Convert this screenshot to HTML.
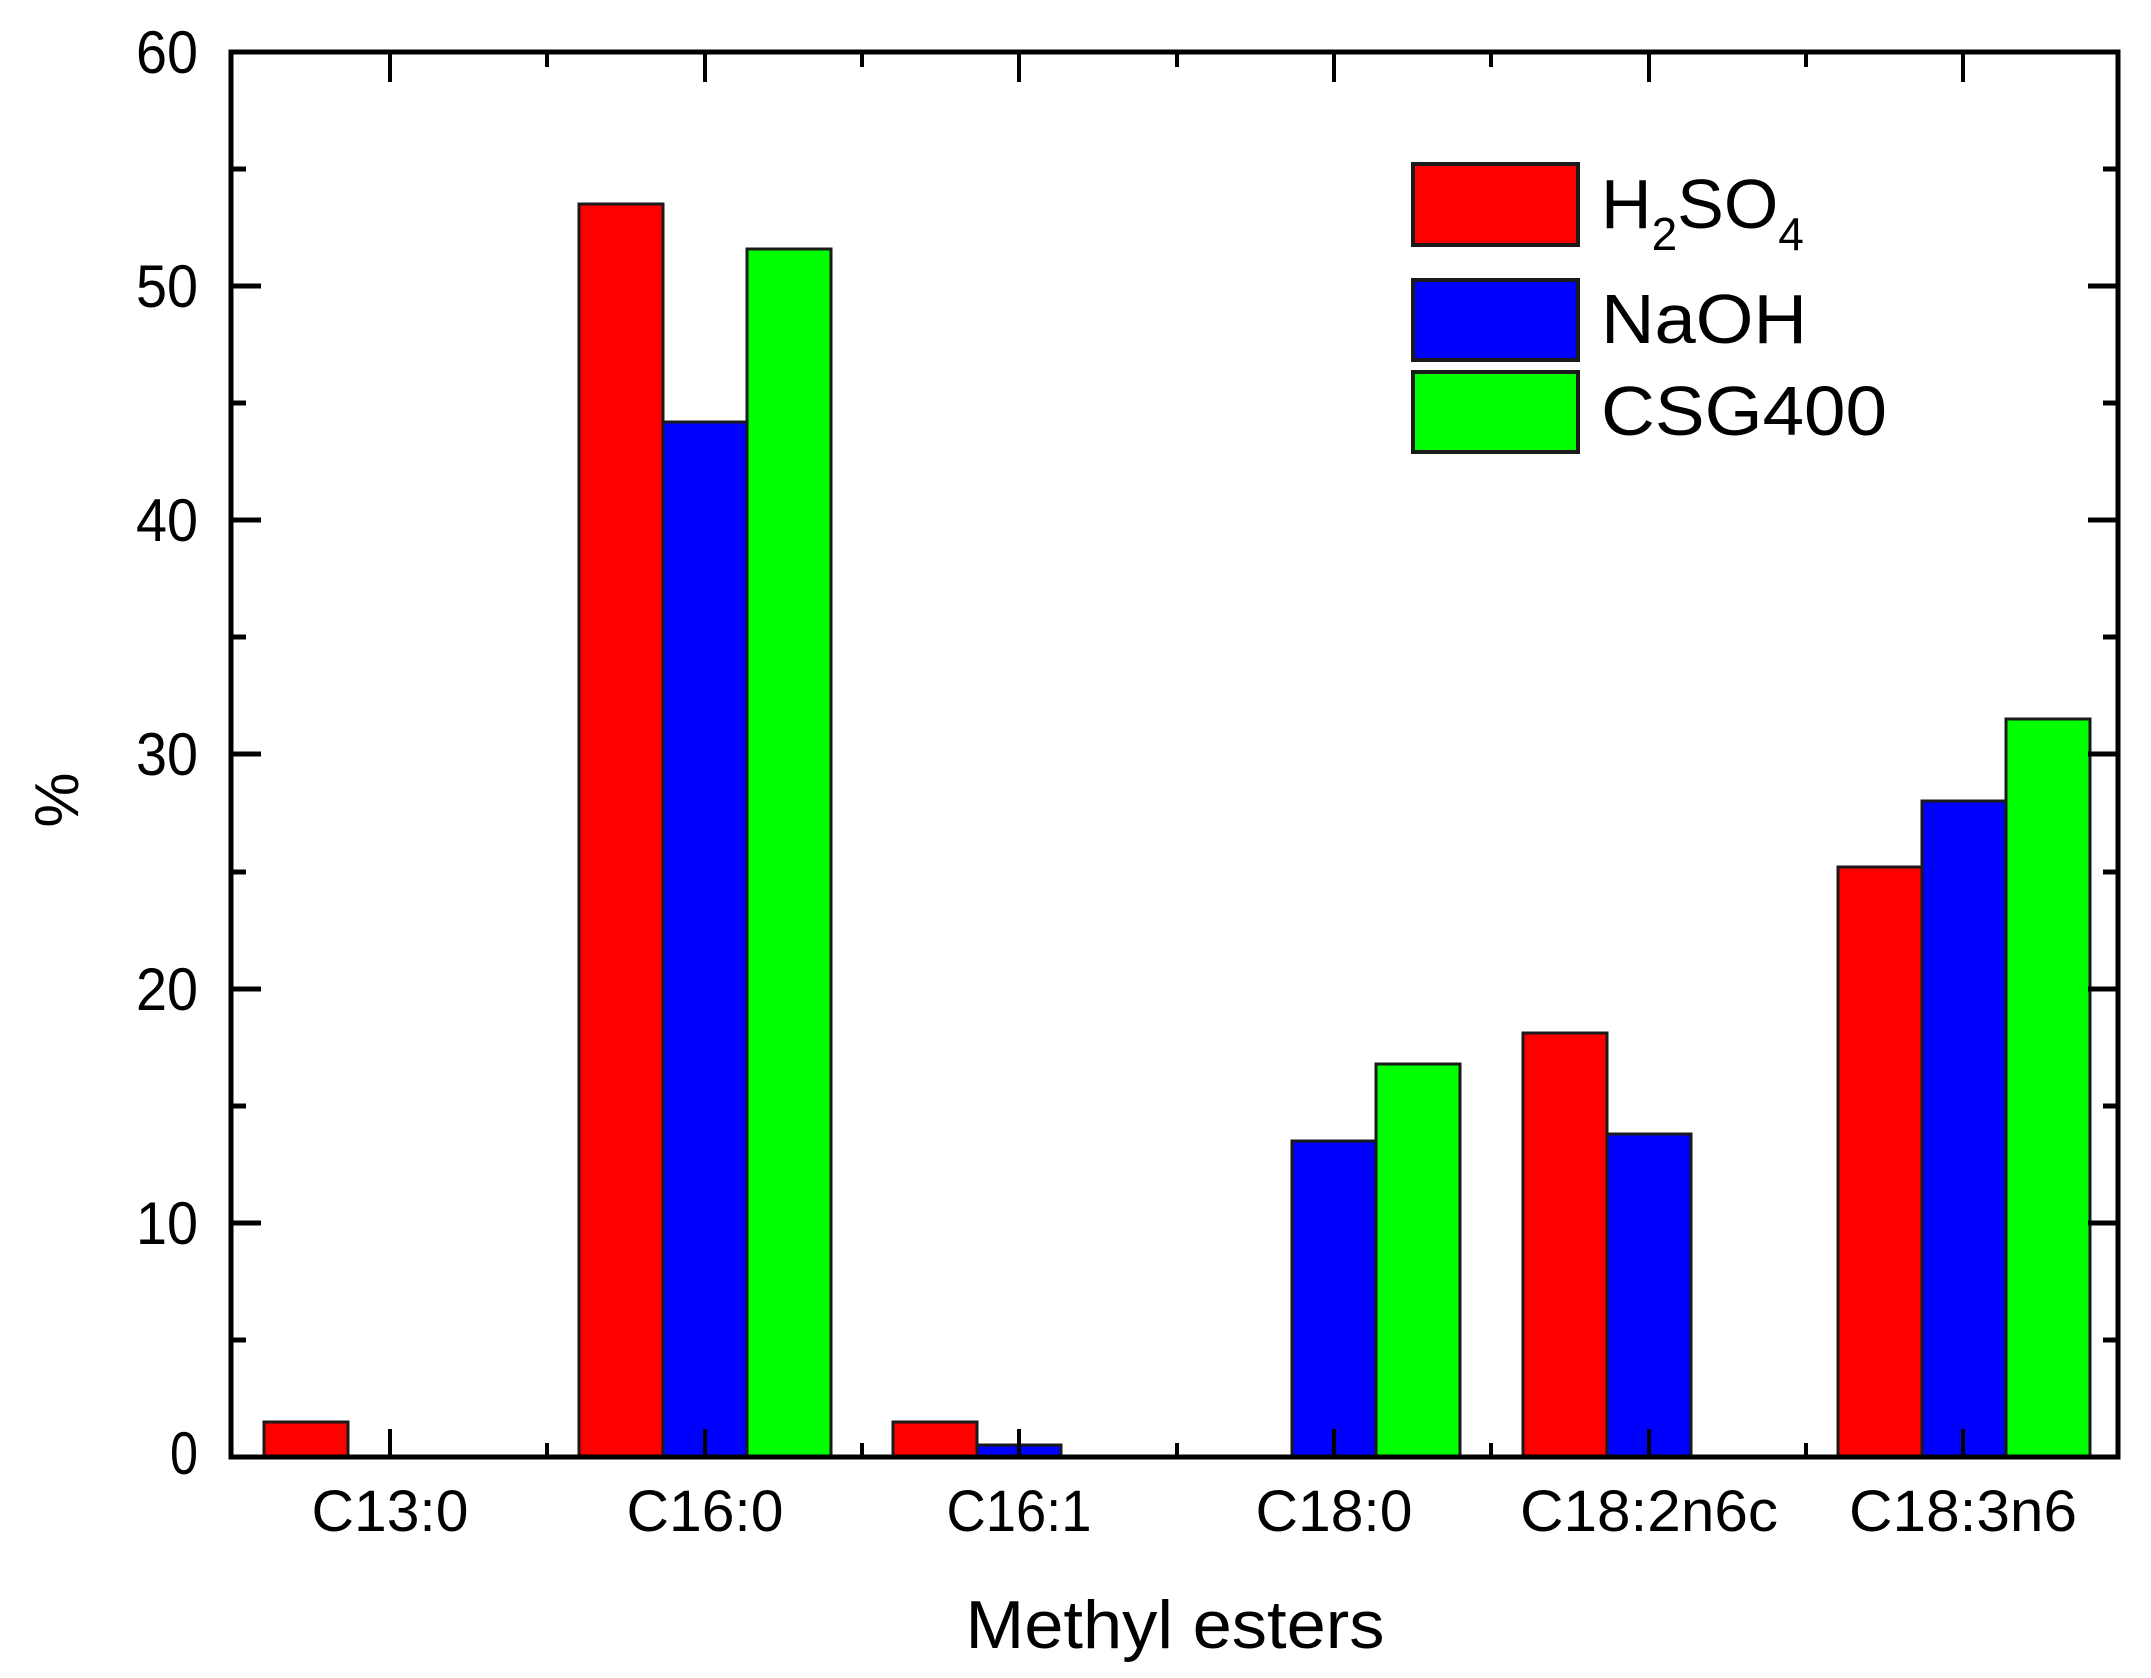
<!DOCTYPE html>
<html><head><meta charset="utf-8"><style>html,body{margin:0;padding:0;background:#fff}svg{display:block}</style></head>
<body>
<svg width="2151" height="1678" viewBox="0 0 2151 1678" xmlns="http://www.w3.org/2000/svg" font-family="Liberation Sans, Arial, sans-serif">
<rect width="2151" height="1678" fill="#fff"/>
<g stroke="#1a1a1a" stroke-width="3">
<rect x="264" y="1422" width="84" height="35" fill="#ff0000"/>
<rect x="579" y="204" width="84" height="1253" fill="#ff0000"/>
<rect x="663" y="422" width="84" height="1035" fill="#0000ff"/>
<rect x="747" y="249" width="84" height="1208" fill="#00ff00"/>
<rect x="893" y="1422" width="84" height="35" fill="#ff0000"/>
<rect x="977" y="1445" width="84" height="12" fill="#0000ff"/>
<rect x="1292" y="1141" width="84" height="316" fill="#0000ff"/>
<rect x="1376" y="1064" width="84" height="393" fill="#00ff00"/>
<rect x="1523" y="1033" width="84" height="424" fill="#ff0000"/>
<rect x="1607" y="1134" width="84" height="323" fill="#0000ff"/>
<rect x="1838" y="867" width="84" height="590" fill="#ff0000"/>
<rect x="1922" y="801" width="84" height="656" fill="#0000ff"/>
<rect x="2006" y="719" width="84" height="738" fill="#00ff00"/>
</g>
<g stroke="#000" stroke-width="5" fill="none">
<rect x="231" y="52" width="1887" height="1405"/>
<path d="M231 1457h30M231 1340h15M231 1223h30M231 1106h15M231 989h30M231 872h15M231 754h30M231 637h15M231 520h30M231 403h15M231 286h30M231 169h15"/>
<path d="M2118 1340h-15M2118 1223h-30M2118 1106h-15M2118 989h-30M2118 872h-15M2118 754h-30M2118 637h-15M2118 520h-30M2118 403h-15M2118 286h-30M2118 169h-15"/>
</g>
<g stroke="#000" stroke-width="4">
<path d="M390 1457v-28M705 1457v-28M1019 1457v-28M1334 1457v-28M1649 1457v-28M1963 1457v-28"/>
<path d="M547 1457v-14M862 1457v-14M1177 1457v-14M1491 1457v-14M1806 1457v-14"/>
<path d="M390 52v30M705 52v30M1019 52v30M1334 52v30M1649 52v30M1963 52v30"/>
<path d="M547 52v15M862 52v15M1177 52v15M1491 52v15M1806 52v15"/>
</g>
<g font-size="60" fill="#000" text-anchor="end">
<text x="198" y="1474" textLength="28" lengthAdjust="spacingAndGlyphs">0</text>
<text x="198" y="1244" textLength="62" lengthAdjust="spacingAndGlyphs">10</text>
<text x="198" y="1010" textLength="62" lengthAdjust="spacingAndGlyphs">20</text>
<text x="198" y="775" textLength="62" lengthAdjust="spacingAndGlyphs">30</text>
<text x="198" y="541" textLength="62" lengthAdjust="spacingAndGlyphs">40</text>
<text x="198" y="307" textLength="62" lengthAdjust="spacingAndGlyphs">50</text>
<text x="198" y="73" textLength="62" lengthAdjust="spacingAndGlyphs">60</text>
</g>
<g font-size="58" fill="#000" text-anchor="middle">
<text x="390" y="1531" textLength="157" lengthAdjust="spacingAndGlyphs">C13:0</text>
<text x="705" y="1531" textLength="157" lengthAdjust="spacingAndGlyphs">C16:0</text>
<text x="1019" y="1531" textLength="145" lengthAdjust="spacingAndGlyphs">C16:1</text>
<text x="1334" y="1531" textLength="157" lengthAdjust="spacingAndGlyphs">C18:0</text>
<text x="1649" y="1531" textLength="258" lengthAdjust="spacingAndGlyphs">C18:2n6c</text>
<text x="1963" y="1531" textLength="228" lengthAdjust="spacingAndGlyphs">C18:3n6</text>
</g>
<text x="1175" y="1648" font-size="68" text-anchor="middle" textLength="419" lengthAdjust="spacingAndGlyphs">Methyl esters</text>
<text transform="translate(78,800) rotate(-90)" font-size="62" text-anchor="middle">%</text>
<g stroke="#1a1a1a" stroke-width="4">
<rect x="1413" y="164" width="165" height="81" fill="#ff0000"/>
<rect x="1413" y="280" width="165" height="80" fill="#0000ff"/>
<rect x="1413" y="372" width="165" height="80" fill="#00ff00"/>
</g>
<g font-size="70" fill="#000">
<text x="1601" y="228">H<tspan font-size="46" dy="22">2</tspan><tspan dy="-22">SO</tspan><tspan font-size="46" dy="22">4</tspan></text>
<text x="1601" y="343" textLength="206" lengthAdjust="spacingAndGlyphs">NaOH</text>
<text x="1601" y="435" textLength="286" lengthAdjust="spacingAndGlyphs">CSG400</text>
</g>
</svg>
</body></html>
